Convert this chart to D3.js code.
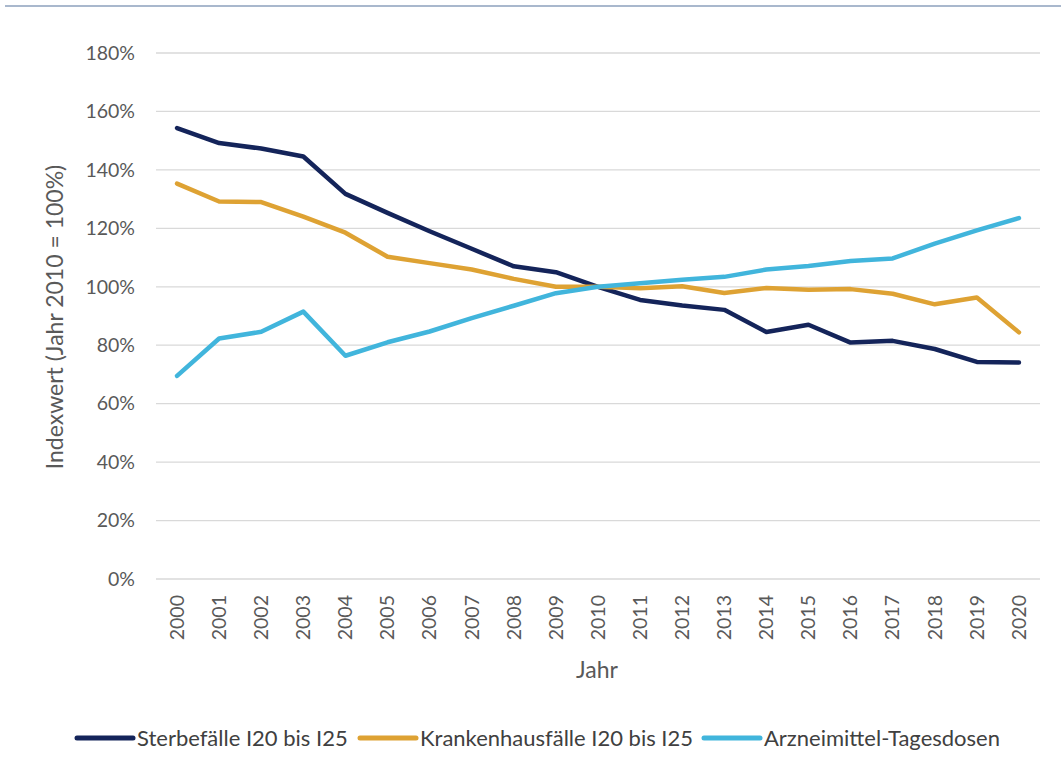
<!DOCTYPE html>
<html>
<head>
<meta charset="utf-8">
<script src="https://cdn.jsdelivr.net/npm/d3@7"></script>
<style>
  body { margin: 0; background: #fff; }
  text { font-family: Lato, "Open Sans", sans-serif; }
</style>
</head>
<body>
<script>
// Werte (Index, Jahr 2010 = 100%)
const jahre = d3.range(2000, 2021);
const sterbefaelle = [154.3, 149.2, 147.3, 144.6, 131.8, 125.3, 119.0, 113.0, 107.0, 105.0, 100.0,
                      95.5, 93.6, 92.1, 84.5, 87.0, 80.9, 81.5, 78.7, 74.3, 74.1];
const krankenhaus = [135.3, 129.2, 129.0, 124.0, 118.5, 110.3, 108.1, 105.9, 102.7, 100.0, 100.0,
                     99.5, 100.2, 97.9, 99.6, 99.0, 99.2, 97.6, 94.0, 96.3, 84.4];
const arznei = [69.5, 82.3, 84.6, 91.5, 76.4, 81.0, 84.7, 89.3, 93.5, 97.8, 100.0,
                101.2, 102.4, 103.4, 105.9, 107.1, 108.8, 109.7, 114.8, 119.3, 123.5];
const yTicks = [0, 20, 40, 60, 80, 100, 120, 140, 160, 180];

const serien = [
  { name: "Sterbefälle I20 bis I25", werte: sterbefaelle, farbe: "#14245a" },
  { name: "Krankenhausfälle I20 bis I25", werte: krankenhaus, farbe: "#dea233" },
  { name: "Arzneimittel-Tagesdosen", werte: arznei, farbe: "#41b5dc" }
];

const width = 1061, height = 771;
const svg = d3.select("body").append("svg")
  .attr("width", width)
  .attr("height", height);

// obere Trennlinie
svg.append("line")
  .attr("x1", 5).attr("x2", width).attr("y1", 6).attr("y2", 6)
  .attr("stroke", "#a9b8cd").attr("stroke-width", 2);

const plot = { left: 156, right: 1040, top: 53, bottom: 579 };

const x = d3.scaleBand().domain(jahre).range([plot.left, plot.right]);
const y = d3.scaleLinear().domain([0, 180]).range([plot.bottom, plot.top]);

// Gitterlinien
svg.append("g")
  .selectAll("line")
  .data(yTicks)
  .join("line")
  .attr("x1", plot.left).attr("x2", plot.right)
  .attr("y1", d => y(d)).attr("y2", d => y(d))
  .attr("stroke", "#d9d9d9").attr("stroke-width", 1.3);

// Y-Achse Beschriftung
svg.append("g")
  .selectAll("text")
  .data(yTicks)
  .join("text")
  .attr("x", 135)
  .attr("y", d => y(d))
  .attr("dy", "0.35em")
  .attr("text-anchor", "end")
  .attr("font-size", 19.5)
  .attr("fill", "#595959")
  .text(d => d + "%");

// X-Achse Beschriftung (gedreht)
svg.append("g")
  .selectAll("text")
  .data(jahre)
  .join("text")
  .attr("transform", d => `translate(${x(d) + x.bandwidth() / 2},595) rotate(-90)`)
  .attr("text-anchor", "end")
  .attr("dy", "0.35em")
  .attr("font-size", 19.5)
  .attr("fill", "#595959")
  .text(d => d);

// Achsentitel
svg.append("text")
  .attr("transform", "translate(55,317) rotate(-90)")
  .attr("text-anchor", "middle")
  .attr("dy", "0.35em")
  .attr("font-size", 23)
  .attr("fill", "#595959")
  .text("Indexwert (Jahr 2010 = 100%)");

svg.append("text")
  .attr("x", 597).attr("y", 670)
  .attr("text-anchor", "middle")
  .attr("dy", "0.35em")
  .attr("font-size", 23)
  .attr("fill", "#595959")
  .text("Jahr");

// Linien
const line = d3.line()
  .x((d, i) => x(jahre[i]) + x.bandwidth() / 2)
  .y(d => y(d));

svg.append("g")
  .selectAll("path")
  .data(serien)
  .join("path")
  .attr("d", d => line(d.werte))
  .attr("fill", "none")
  .attr("stroke", d => d.farbe)
  .attr("stroke-width", 4.5)
  .attr("stroke-linejoin", "round")
  .attr("stroke-linecap", "round");

// Legende
const legPos = [77, 360, 704];
const leg = svg.append("g")
  .selectAll("g")
  .data(serien)
  .join("g")
  .attr("transform", (d, i) => `translate(${legPos[i]},738)`);

leg.append("line")
  .attr("x1", 0).attr("x2", 56)
  .attr("stroke", d => d.farbe)
  .attr("stroke-width", 5)
  .attr("stroke-linecap", "round");

leg.append("text")
  .attr("x", 60)
  .attr("dy", "0.35em")
  .attr("font-size", 22)
  .attr("fill", "#404040")
  .text(d => d.name);
</script>
</body>
</html>
